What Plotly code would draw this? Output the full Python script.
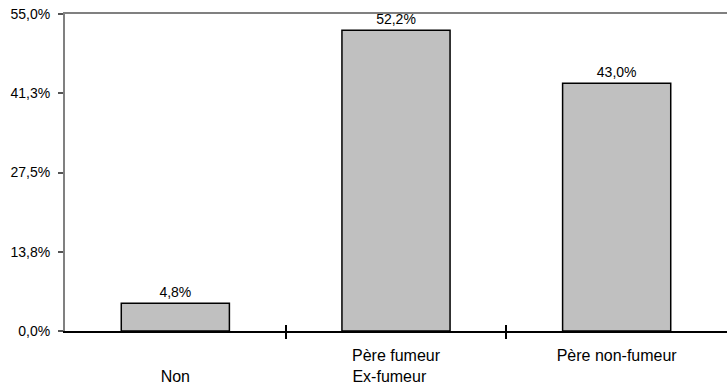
import plotly.graph_objects as go

categories = ["Non", "Père fumeur", "Père non-fumeur"]
tick_labels = ["\u00a0<br>Non", "Père fumeur<br>Ex-fumeur\u00a0\u00a0\u00a0", "Père non-fumeur"]
values = [4.8, 52.2, 43.0]
value_labels = ["4,8%", "52,2%", "43,0%"]
y_tickvals = [0, 13.75, 27.5, 41.25, 55]
y_ticktext = ["0,0%", "13,8%", "27,5%", "41,3%", "55,0%"]
boundaries = [0.5, 1.5]

FONT = "Liberation Sans, Arial, sans-serif"
x = list(range(len(categories)))

fig = go.Figure()
fig.add_trace(go.Bar(
    x=x, y=values, width=0.49,
    marker=dict(color="#C0C0C0", line=dict(color="black", width=1.5)),
    text=value_labels, textposition="outside", cliponaxis=False,
    textfont=dict(family=FONT, size=14, color="black"),
))
# empty helper traces so the frame axes (top border, crossing ticks) are drawn
for ax in ("x2", "x3"):
    fig.add_trace(go.Scatter(x=[None], y=[None], xaxis=ax, yaxis="y",
                             mode="markers", showlegend=False, hoverinfo="skip"))

fig.update_layout(
    width=727, height=387,
    margin=dict(l=65, r=0, t=14, b=56),
    paper_bgcolor="white", plot_bgcolor="white",
    showlegend=False,
    xaxis=dict(
        range=[-0.5, 2.5], tickmode="array", tickvals=x, ticktext=tick_labels,
        ticks="", showgrid=False, zeroline=False, automargin=False,
        showline=True, linecolor="black", linewidth=2,
        tickfont=dict(family=FONT, size=16, color="black"),
        ticklabelstandoff=9,
        minor=dict(tickmode="array", tickvals=boundaries, ticks="outside",
                   ticklen=6, tickwidth=2, tickcolor="black", showgrid=False),
    ),
    xaxis2=dict(
        overlaying="x", side="top", anchor="y", range=[-0.5, 2.5],
        showline=True, linecolor="#808080", linewidth=2, automargin=False,
        ticks="", showticklabels=False, showgrid=False, zeroline=False,
    ),
    xaxis3=dict(
        overlaying="x", side="bottom", anchor="y", range=[-0.5, 2.5],
        showline=False, tickmode="array", tickvals=boundaries, automargin=False,
        ticks="inside", ticklen=6, tickwidth=2, tickcolor="black",
        showticklabels=False, showgrid=False, zeroline=False,
    ),
    yaxis=dict(
        range=[0, 55], tickmode="array", tickvals=y_tickvals, ticktext=y_ticktext,
        ticks="outside", ticklen=5, tickwidth=1.5, tickcolor="#555555",
        showgrid=False, zeroline=False, automargin=False,
        showline=True, linecolor="#808080", linewidth=2,
        tickfont=dict(family=FONT, size=14, color="black"),
        ticklabelstandoff=5,
    ),
)

fig.write_html("out.html")
